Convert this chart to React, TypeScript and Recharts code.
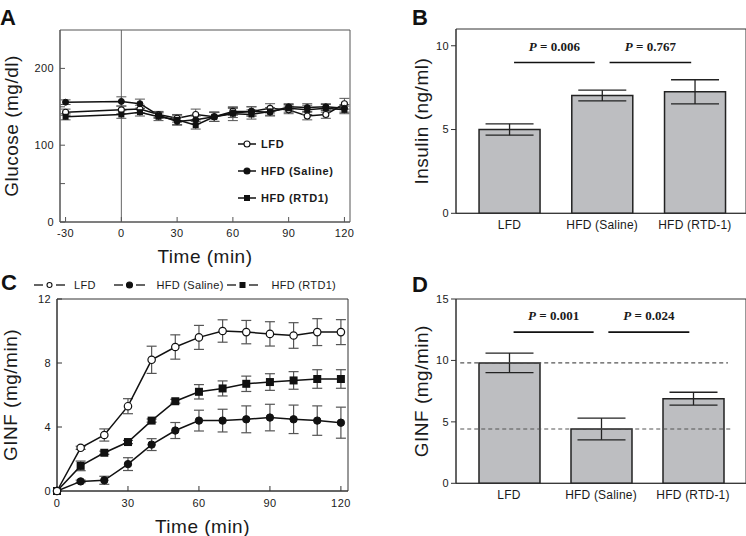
import React from 'react';
import { Bar, ComposedChart, ErrorBar, Legend, Line, ReferenceArea, ReferenceLine, XAxis, YAxis } from 'recharts';

const SANS = '"Liberation Sans", Arial, Helvetica, sans-serif';
const SERIF = '"Liberation Serif", "Times New Roman", serif';
const INK = '#1a1a1a';

// A: glucose during the clamp
const glucoseTime = [-30, 0, 10, 20, 30, 40, 50, 60, 70, 80, 90, 100, 110, 120];
const glucoseLFD = [143, 146, 147, 140, 135, 140, 137, 144, 144, 148, 146, 138, 140, 154];
const glucoseLFDErr = [4, 5, 5, 4, 5, 7, 6, 5, 6, 6, 5, 5, 5, 7];
const glucoseSaline = [156, 157, 154, 139, 131, 133, 137, 142, 144, 143, 150, 149, 150, 148];
const glucoseSalineErr = [3, 6, 6, 4, 5, 5, 6, 6, 6, 5, 4, 5, 4, 5];
const glucoseRTD1 = [137, 140, 143, 137, 133, 126, 137, 141, 140, 144, 148, 146, 148, 146];
const glucoseRTD1Err = [4, 5, 5, 5, 6, 5, 6, 9, 6, 5, 5, 6, 5, 5];

// C: glucose infusion rate
const ginfTime = [0, 10, 20, 30, 40, 50, 60, 70, 80, 90, 100, 110, 120];
const ginfLFD = [0, 2.7, 3.5, 5.3, 8.2, 9.0, 9.6, 10.0, 9.93, 9.82, 9.72, 9.93, 9.93];
const ginfLFDErr = [0, 0.1, 0.38, 0.47, 0.85, 0.76, 0.75, 0.7, 0.73, 0.76, 0.8, 0.84, 0.78];
const ginfSaline = [0, 0.6, 0.67, 1.68, 2.9, 3.78, 4.4, 4.4, 4.48, 4.59, 4.48, 4.4, 4.27];
const ginfSalineErr = [0, 0.08, 0.25, 0.4, 0.37, 0.5, 0.65, 0.71, 0.84, 0.83, 0.89, 0.92, 0.97];
const ginfRTD1 = [0, 1.57, 2.39, 3.06, 4.4, 5.61, 6.2, 6.41, 6.7, 6.81, 6.91, 7.0, 7.0];
const ginfRTD1Err = [0, 0.3, 0.1, 0.1, 0.1, 0.12, 0.45, 0.47, 0.48, 0.52, 0.55, 0.58, 0.58];

// B and D: group means
const groups = ['LFD', 'HFD (Saline)', 'HFD (RTD-1)'];
const insulin = [5.0, 7.03, 7.25];
const insulinErr = [0.34, 0.32, 0.72];
const ginfMean = [9.8, 4.42, 6.89];
const ginfMeanErr = [0.8, 0.88, 0.52];
const insulinP = ['0.006', '0.767'];
const ginfP = ['0.001', '0.024'];

const glucoseRows = glucoseTime.map((t, i) => ({
  t,
  lfd: glucoseLFD[i], lfdErr: glucoseLFDErr[i],
  saline: glucoseSaline[i], salineErr: glucoseSalineErr[i],
  rtd: glucoseRTD1[i], rtdErr: glucoseRTD1Err[i],
}));

const ginfRows = ginfTime.map((t, i) => ({
  t,
  lfd: ginfLFD[i], lfdErr: ginfLFDErr[i],
  saline: ginfSaline[i], salineErr: ginfSalineErr[i],
  rtd: ginfRTD1[i], rtdErr: ginfRTD1Err[i],
}));

const tickStyle = { fontSize: 11, fill: INK, fontFamily: SANS, letterSpacing: 0.4 };

function AxisTitle({ viewBox, text, vertical, shift }: any) {
  if (!viewBox) return null;
  const { x, y, width, height } = viewBox;
  const cx = x + width / 2 + (vertical ? shift : 0);
  const cy = y + height / 2 + (vertical ? 0 : shift);
  return (
    <text
      x={cx}
      y={cy}
      textAnchor="middle"
      dominantBaseline="central"
      transform={vertical ? `rotate(-90 ${cx} ${cy})` : undefined}
      style={{ fontSize: 19, fill: INK, fontFamily: SANS, letterSpacing: 0.5 }}
    >
      {text}
    </text>
  );
}

function PLabel({ viewBox, p }: any) {
  if (!viewBox) return null;
  return (
    <text
      x={viewBox.x + viewBox.width / 2}
      y={viewBox.y - 12}
      textAnchor="middle"
      style={{ fontSize: 13, fontWeight: 700, fill: INK, fontFamily: SERIF }}
    >
      <tspan fontStyle="italic">P</tspan> = {p}
    </text>
  );
}

const squareDot = (size: number) => (props: any) => {
  const { cx, cy, index } = props;
  if (cx == null || cy == null) return <g key={index} />;
  return <rect key={index} x={cx - size / 2} y={cy - size / 2} width={size} height={size} fill="#111" />;
};

function Marker({ kind, size }: { kind: string; size: number }) {
  if (kind === 'square') return <rect x={-size / 2} y={-size / 2} width={size} height={size} fill="#111" />;
  return <circle r={size / 2} fill={kind === 'open' ? '#fff' : '#111'} stroke="#111" strokeWidth={1.1} />;
}

const seriesNames = ['LFD', 'HFD (Saline)', 'HFD (RTD1)'];
const seriesKinds = ['open', 'filled', 'square'];

function LegendA() {
  return (
    <div style={{ fontFamily: SANS, fontWeight: 700, fontSize: 11, letterSpacing: 0.6, color: INK }}>
      {seriesNames.map((name, i) => (
        <div key={name} style={{ display: 'flex', alignItems: 'center', height: 26.7 }}>
          <svg width={20} height={10} style={{ marginRight: 3 }}>
            <line x1={0} x2={18} y1={5} y2={5} stroke="#111" strokeWidth={1.5} />
            <g transform="translate(9 5)"><Marker kind={seriesKinds[i]} size={6} /></g>
          </svg>
          <span>{name}</span>
        </div>
      ))}
    </div>
  );
}

function LegendC() {
  const iconLeft = [0, 80, 192.5];
  const textLeft = [40, 122.5, 237.5];
  return (
    <div style={{ position: 'relative', width: 310, height: 14, fontFamily: SANS, fontSize: 11, letterSpacing: 0.3, color: INK }}>
      {seriesNames.map((name, i) => (
        <React.Fragment key={name}>
          <svg width={32} height={14} style={{ position: 'absolute', left: iconLeft[i], top: 0 }}>
            <line x1={0} x2={9} y1={7} y2={7} stroke="#111" strokeWidth={1.3} />
            <line x1={22} x2={31} y1={7} y2={7} stroke="#111" strokeWidth={1.3} />
            <g transform="translate(15.5 7)"><Marker kind={seriesKinds[i]} size={i === 0 ? 5 : 6} /></g>
          </svg>
          <span style={{ position: 'absolute', left: textLeft[i], top: 0, lineHeight: '14px', whiteSpace: 'nowrap' }}>{name}</span>
        </React.Fragment>
      ))}
    </div>
  );
}

function GlucosePanel() {
  return (
    <ComposedChart width={380} height={270} data={glucoseRows} margin={{ top: 30, right: 30, left: 0, bottom: 0 }}>
      <XAxis
        dataKey="t" type="number" domain={[-33, 123]} ticks={[-30, 0, 30, 60, 90, 120]}
        height={48} tickSize={-5} tickMargin={12} tick={tickStyle}
        axisLine={{ stroke: '#555' }} tickLine={{ stroke: '#555' }}
        label={<AxisTitle text="Time (min)" shift={10} />}
      />
      <YAxis
        domain={[0, 250]} ticks={[0, 50, 100, 150, 200]} tickFormatter={(v: number) => (v % 100 === 0 ? String(v) : '')}
        width={60} tickSize={-5} tickMargin={11} tick={tickStyle}
        axisLine={{ stroke: '#555' }} tickLine={{ stroke: '#555' }}
        label={<AxisTitle text="Glucose (mg/dl)" vertical shift={-19} />}
      />
      <ReferenceArea x1={-33} x2={123} y1={0} y2={250} fill="none" stroke="#555" strokeWidth={1} />
      <ReferenceLine x={0} stroke="#666" strokeWidth={1} />
      <Line dataKey="lfd" stroke="#111" strokeWidth={1.5} isAnimationActive={false}
        dot={{ r: 3, fill: '#fff', stroke: '#111', strokeWidth: 1.1 }}>
        <ErrorBar dataKey="lfdErr" width={5} stroke="#555" strokeWidth={1} />
      </Line>
      <Line dataKey="saline" stroke="#111" strokeWidth={1.5} isAnimationActive={false}
        dot={{ r: 3, fill: '#111', stroke: '#111', strokeWidth: 1 }}>
        <ErrorBar dataKey="salineErr" width={5} stroke="#555" strokeWidth={1} />
      </Line>
      <Line dataKey="rtd" stroke="#111" strokeWidth={1.5} isAnimationActive={false} dot={squareDot(6)}>
        <ErrorBar dataKey="rtdErr" width={5} stroke="#555" strokeWidth={1} />
      </Line>
      <Legend
        layout="vertical" align="center" verticalAlign="middle" content={() => <LegendA />}
        wrapperStyle={{ left: 238, top: 131, width: 120 }}
      />
    </ComposedChart>
  );
}

function GinfPanel() {
  return (
    <ComposedChart width={380} height={266} data={ginfRows} margin={{ top: 29, right: 32, left: 0, bottom: 0 }}>
      <XAxis
        dataKey="t" type="number" domain={[0, 123]} ticks={[0, 30, 60, 90, 120]}
        height={45} tickSize={-5} tickMargin={13} tick={tickStyle}
        axisLine={{ stroke: '#333' }} tickLine={{ stroke: '#333' }}
        label={<AxisTitle text="Time (min)" shift={13} />}
      />
      <YAxis
        domain={[0, 12]} ticks={[0, 4, 8, 12]}
        width={57} tickSize={-5} tickMargin={11} tick={tickStyle}
        axisLine={{ stroke: '#333' }} tickLine={{ stroke: '#333' }}
        label={<AxisTitle text="GINF (mg/min)" vertical shift={-18} />}
      />
      <ReferenceArea x1={0} x2={123} y1={0} y2={12} fill="none" stroke="#333" strokeWidth={1} />
      <Line dataKey="saline" stroke="#111" strokeWidth={1.5} isAnimationActive={false}
        dot={{ r: 3.7, fill: '#111', stroke: '#111', strokeWidth: 1 }}>
        <ErrorBar dataKey="salineErr" width={5} stroke="#555" strokeWidth={1.2} />
      </Line>
      <Line dataKey="rtd" stroke="#111" strokeWidth={1.5} isAnimationActive={false} dot={squareDot(8)}>
        <ErrorBar dataKey="rtdErr" width={5} stroke="#555" strokeWidth={1.2} />
      </Line>
      <Line dataKey="lfd" stroke="#111" strokeWidth={1.5} isAnimationActive={false}
        dot={{ r: 3.7, fill: '#fff', stroke: '#111', strokeWidth: 1.2 }}>
        <ErrorBar dataKey="lfdErr" width={5} stroke="#555" strokeWidth={1.2} />
      </Line>
      <Legend
        layout="vertical" align="center" verticalAlign="middle" content={() => <LegendC />}
        wrapperStyle={{ left: 34, top: 8, width: 320 }}
      />
    </ComposedChart>
  );
}

const sigSpans = [[1.05, 1.92], [2.08, 2.96]];

function BarPanel({ values, errors, pValues, yMax, yTicks, yLabel, height, xRight, sigY, dashed }: any) {
  const rows = groups.map((g, i) => ({ x: i + 1, name: g, value: values[i], err: errors[i] }));
  const xLeft = 0.424;
  return (
    <ComposedChart width={366} height={height} data={rows} margin={{ top: 29, right: 0, left: 0, bottom: 0 }}>
      <XAxis
        dataKey="x" type="number" domain={[xLeft, xRight]} ticks={[1, 2, 3]}
        tickFormatter={(v: number) => groups[v - 1]}
        height={height - 213.3} tickLine={false} tickSize={0} tickMargin={7}
        tick={{ ...tickStyle, fontSize: 12, letterSpacing: 0.2 }} axisLine={{ stroke: '#333' }}
      />
      <YAxis
        domain={[0, yMax]} ticks={yTicks}
        width={76} tickSize={5} tickMargin={2} tick={tickStyle}
        axisLine={{ stroke: '#333' }} tickLine={{ stroke: '#333' }}
        label={<AxisTitle text={yLabel} vertical shift={4} />}
      />
      <ReferenceArea x1={xLeft} x2={xRight} y1={0} y2={yMax} fill="none" stroke="#333" strokeWidth={1} />
      <Bar dataKey="value" barSize={61} fill="#bdbec1" stroke="#222" strokeWidth={1.5} isAnimationActive={false}>
        <ErrorBar dataKey="err" width={24} stroke="#222" strokeWidth={1.3} />
      </Bar>
      {dashed.map((d: any, i: number) => (
        <ReferenceLine
          key={'d' + i}
          segment={[{ x: 0.47, y: d[0] }, { x: d[1], y: d[0] }]}
          stroke="#555" strokeWidth={1.2} strokeDasharray="4 3"
        />
      ))}
      {sigSpans.map((s, i) => (
        <ReferenceLine
          key={'s' + i}
          segment={[{ x: s[0], y: sigY }, { x: s[1], y: sigY }]}
          stroke="#111" strokeWidth={1.6}
          label={<PLabel p={pValues[i]} />}
        />
      ))}
    </ComposedChart>
  );
}

function PanelLetters() {
  const letters = [['A', 0, 25], ['B', 412, 25], ['C', 1, 290], ['D', 412, 292]];
  return (
    <svg width={746} height={536} style={{ position: 'absolute', left: 0, top: 0, pointerEvents: 'none' }}>
      {letters.map(([l, x, y]) => (
        <text key={l as string} x={x as number} y={y as number}
          style={{ fontSize: 22, fontWeight: 700, fill: '#111', fontFamily: SANS }}>
          {l}
        </text>
      ))}
    </svg>
  );
}

export default function App() {
  return (
    <div style={{ position: 'absolute', left: 0, top: 0, width: 746, height: 536, background: '#fff', overflow: 'hidden' }}>
      <div style={{ position: 'absolute', left: 0, top: 0 }}>
        <GlucosePanel />
      </div>
      <div style={{ position: 'absolute', left: 380, top: 0 }}>
        <BarPanel
          values={insulin} errors={insulinErr} pValues={insulinP}
          yMax={11} yTicks={[0, 5, 10]} yLabel="Insulin (ng/ml)"
          height={260} xRight={3.551} sigY={9} dashed={[]}
        />
      </div>
      <div style={{ position: 'absolute', left: 0, top: 270 }}>
        <GinfPanel />
      </div>
      <div style={{ position: 'absolute', left: 380, top: 270 }}>
        <BarPanel
          values={ginfMean} errors={ginfMeanErr} pValues={ginfP}
          yMax={15} yTicks={[0, 5, 10, 15]} yLabel="GINF (mg/min)"
          height={266} xRight={3.576} sigY={12.3} dashed={[[ginfMean[0], 3.38], [ginfMean[1], 3.42]]}
        />
      </div>
      <PanelLetters />
    </div>
  );
}
